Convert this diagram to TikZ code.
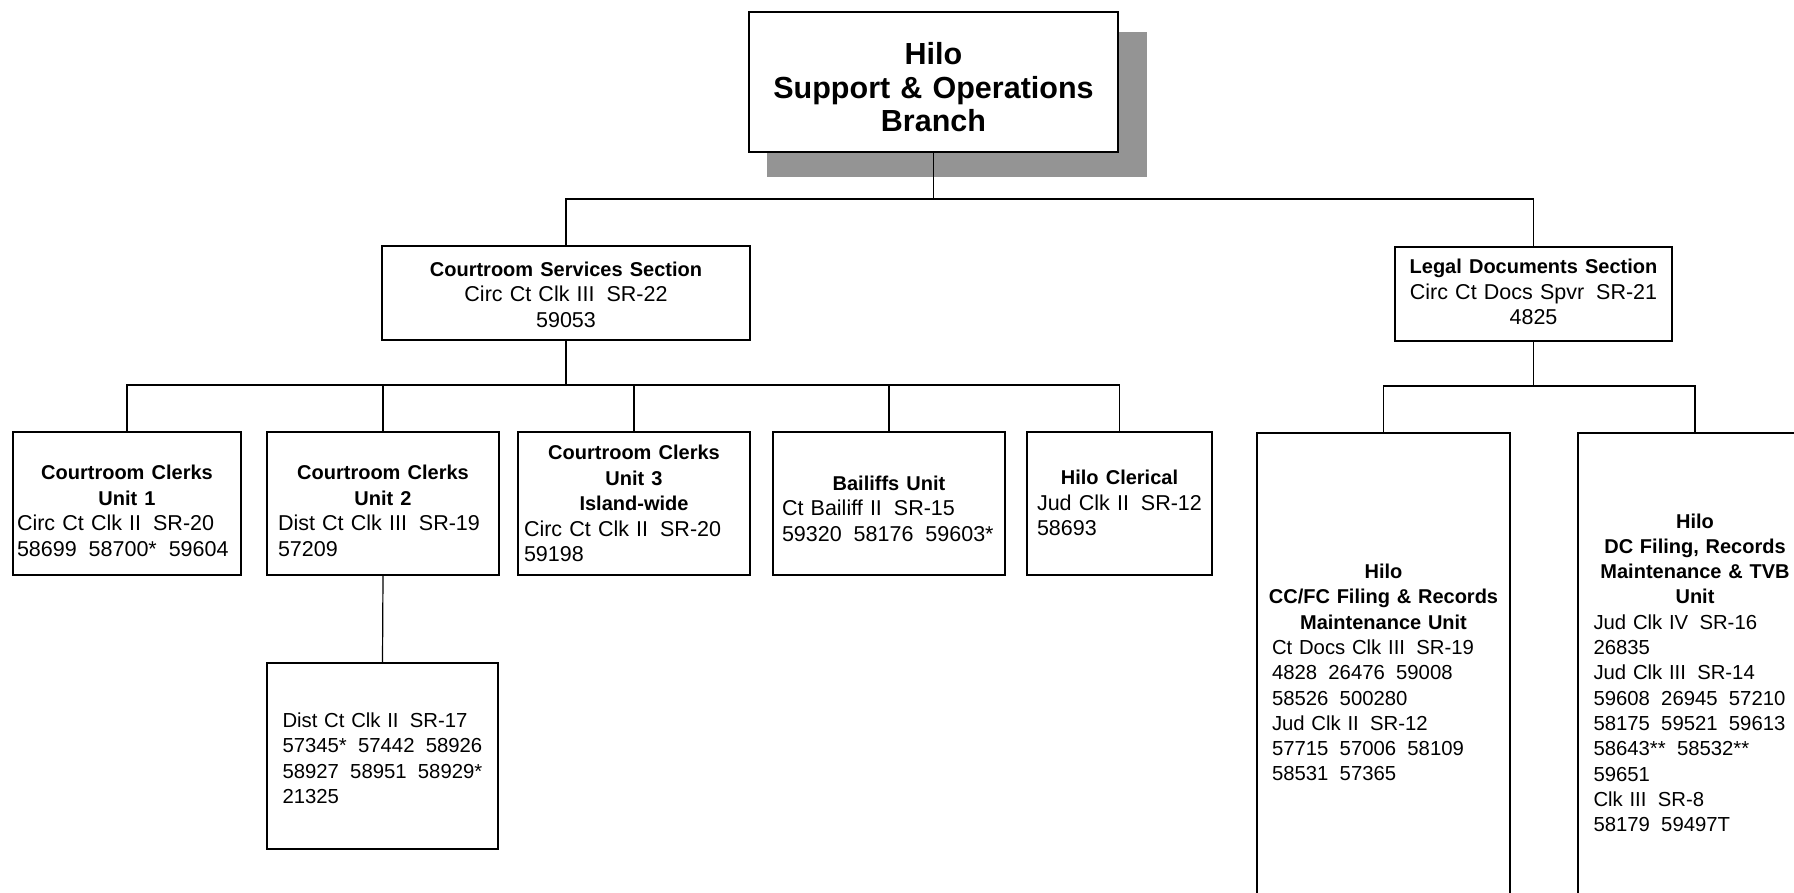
\documentclass[tikz,border=0pt]{standalone}
\usepackage{fontspec}
\setmainfont{Liberation Sans}
\newcommand\dsp{\hspace{0.556em}}
\newcommand\lln[1]{\makebox[\linewidth][l]{#1}}
\newcommand\bx[1]{\makebox[\linewidth][c]{\fontsize{20}{25.5}\selectfont\bfseries #1}}
\begin{document}
\begin{tikzpicture}[x=1pt,y=-1pt,
  box/.style={draw=black, fill=white, line width=1.7pt, inner sep=0pt},
  conn/.style={draw=black, line width=1.2pt},
  txt/.style={inner sep=0pt, align=center, anchor=base,
    font=\fontsize{21.5}{25.5}\selectfont},
  txs/.style={txt, font=\fontsize{20.3}{25.3}\selectfont},
  ttl/.style={inner sep=0pt, align=center, anchor=base,
    font=\fontsize{30.5}{33.5}\selectfont\bfseries}]
\useasboundingbox (0,0) rectangle (1794,893);
\clip (0,0) rectangle (1794,893);
% top box with shadow
\fill[black!42] (767,32) rectangle (1147,177);
\node[box, minimum width=369pt, minimum height=140pt] (top) at (933.5,82) {};
\node[ttl, text width=360pt] (topt) at (933.5,65) {Hilo\\Support \& Operations\\Branch};
% sections
\node[box, minimum width=368pt, minimum height=94pt] (css) at (566,293) {};
\node[txt, text width=360pt] (csst) at (566,276.5) {\bx{Courtroom Services Section}\\Circ Ct Clk III\dsp SR-22\\59053};
\node[box, minimum width=277pt, minimum height=94pt] (lds) at (1533.5,294) {};
\node[txt, text width=270pt] (ldst) at (1533.5,274) {\bx{Legal Documents Section}\\Circ Ct Docs Spvr\dsp SR-21\\4825};
% units
\node[box, minimum width=228pt, minimum height=143pt] (u1) at (127,503.5) {};
\node[txt, text width=220pt] (u1t) at (127,479.5) {\bx{Courtroom Clerks}\\\bx{Unit 1}\\\lln{Circ Ct Clk II\dsp SR-20}\\\lln{58699\dsp 58700*\dsp 59604}};
\node[box, minimum width=232pt, minimum height=143pt] (u2) at (383,503.5) {};
\node[txt, text width=210pt] (u2t) at (383,479.5) {\bx{Courtroom Clerks}\\\bx{Unit 2}\\\lln{Dist Ct Clk III\dsp SR-19}\\\lln{57209}};
\node[box, minimum width=232pt, minimum height=143pt] (u3) at (634,503.5) {};
\node[txt, text width=220pt] (u3t) at (634,459.5) {\bx{Courtroom Clerks}\\\bx{Unit 3}\\\bx{Island-wide}\\\lln{Circ Ct Clk II\dsp SR-20}\\\lln{59198}};
\node[box, minimum width=232pt, minimum height=143pt] (bail) at (889,503.5) {};
\node[txt, text width=214pt] (bailt) at (889,490) {\bx{Bailiffs Unit}\\\lln{Ct Bailiff II\dsp SR-15}\\\lln{59320\dsp 58176\dsp 59603*}};
\node[box, minimum width=185pt, minimum height=143pt] (clr) at (1119.5,503.5) {};
\node[txt, text width=165pt] (clrt) at (1119.5,484.5) {\bx{Hilo Clerical}\\\lln{Jud Clk II\dsp SR-12}\\\lln{58693}};
\node[box, minimum width=231pt, minimum height=186pt] (u2s) at (382.5,756) {};
\node[txs, text width=200pt] (u2st) at (382.5,727.5) {\lln{Dist Ct Clk II\dsp SR-17}\\\lln{57345*\dsp 57442\dsp 58926}\\\lln{58927\dsp 58951\dsp 58929*}\\\lln{21325}};
\node[box, minimum width=253pt, minimum height=487pt] (ccfc) at (1383.5,676.5) {};
\node[txs, text width=223pt] (ccfct) at (1383.5,578.5) {\bx{Hilo}\\\bx{CC/FC Filing \& Records}\\\bx{Maintenance Unit}\\\lln{Ct Docs Clk III\dsp SR-19}\\\lln{4828\dsp 26476\dsp 59008}\\\lln{58526\dsp 500280}\\\lln{Jud Clk II\dsp SR-12}\\\lln{57715\dsp 57006\dsp 58109}\\\lln{58531\dsp 57365}};
\node[box, minimum width=234pt, minimum height=487pt] (dc) at (1695,676.5) {};
\node[txs, text width=203pt] (dct) at (1695,528) {\bx{Hilo}\\\bx{DC Filing, Records}\\\bx{Maintenance \& TVB}\\\bx{Unit}\\\lln{Jud Clk IV\dsp SR-16}\\\lln{26835}\\\lln{Jud Clk III\dsp SR-14}\\\lln{59608\dsp 26945\dsp 57210}\\\lln{58175\dsp 59521\dsp 59613}\\\lln{58643**\dsp 58532**}\\\lln{59651}\\\lln{Clk III\dsp SR-8}\\\lln{58179\dsp 59497T}};
% connectors
\coordinate (bus1) at (933.5,199);
\coordinate (bus2) at (566,385);
\coordinate (bus3) at (1533.5,386);
\draw[conn] (top.south) -- (bus1);
\draw[conn] (css.north) |- (bus1) -| (lds.north);
\draw[conn] (css.south) -- (bus2);
\draw[conn] (u1.north) |- (bus2) -| (clr.north);
\draw[conn] (u2.north) -- (u2.north |- bus2);
\draw[conn] (u3.north) -- (u3.north |- bus2);
\draw[conn] (bail.north) -- (bail.north |- bus2);
\draw[conn] (u2.south) -- (u2s.north);
\draw[conn] (lds.south) -- (bus3);
\draw[conn] (ccfc.north) |- (bus3) -| (dc.north);
\end{tikzpicture}
\end{document}
